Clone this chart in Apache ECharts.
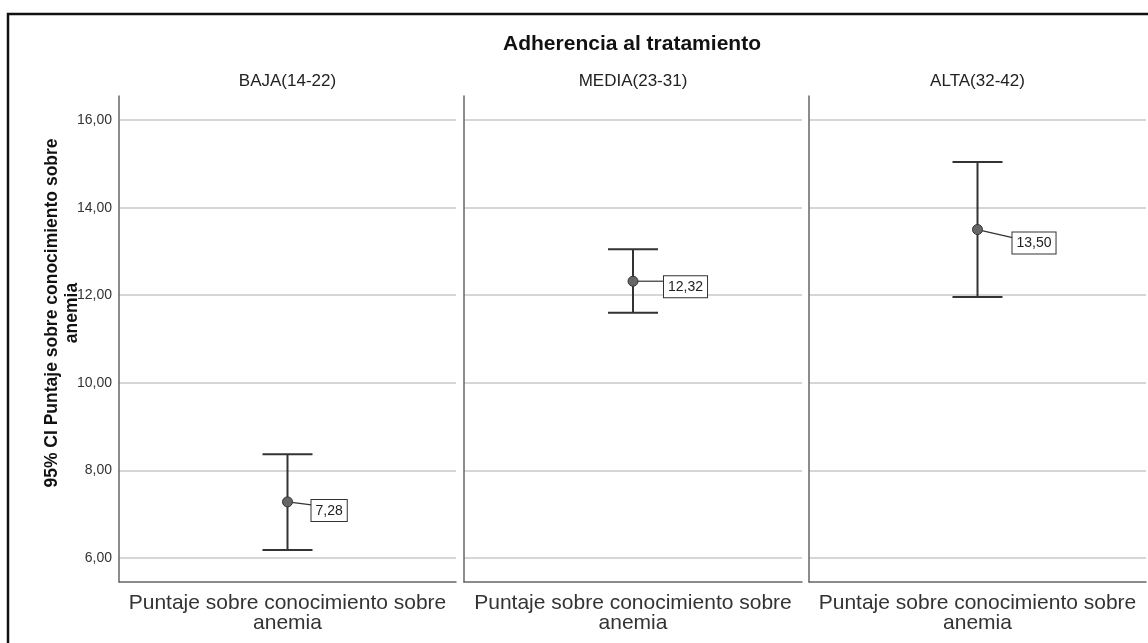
<!DOCTYPE html>
<html><head><meta charset="utf-8">
<script src="https://cdn.jsdelivr.net/npm/echarts@6/dist/echarts.min.js"></script>
<style>html,body{margin:0;padding:0;background:#fff}#c{width:1148px;height:643px}</style>
</head><body><div id="c"></div><script>
// ---- data ----
const chartTitle = 'Adherencia al tratamiento';
const panelLabels = ['BAJA(14-22)', 'MEDIA(23-31)', 'ALTA(32-42)'];
const xCategory = ['Puntaje sobre conocimiento sobre\nanemia'];
const means = [7.28, 12.32, 13.50];
const lowerCI = [6.18, 11.60, 11.96];
const upperCI = [8.37, 13.05, 15.04];
const yAxisTitle = '95% CI Puntaje sobre conocimiento sobre\nanemia';

// ---- layout / style ----
const FONT = '"Liberation Sans", Arial, sans-serif';
const gridBoxes = [{left: 119, width: 337}, {left: 464, width: 338}, {left: 809, width: 337}];
const gridTop = 96, gridHeight = 486;
const labelOffsets = [[24, -2], [31, -5], [35, 3]];
const fmt = v => v.toFixed(2).replace('.', ',');

const chart = echarts.init(document.getElementById('c'), null, {renderer: 'canvas'});

function makeRender(idx) {
  return function (params, api) {
    const m = api.coord([api.value(0), api.value(1)]);
    const lo = api.coord([api.value(0), api.value(2)]);
    const hi = api.coord([api.value(0), api.value(3)]);
    const cap = 25;
    const lineStyle = {stroke: '#333', lineWidth: 2};
    const off = labelOffsets[idx];
    const bx = m[0] + off[0], by = m[1] + off[1];
    return {
      type: 'group',
      children: [
        {type: 'line', shape: {x1: lo[0], y1: lo[1], x2: hi[0], y2: hi[1]}, style: lineStyle},
        {type: 'line', shape: {x1: hi[0] - cap, y1: hi[1], x2: hi[0] + cap, y2: hi[1]}, style: lineStyle},
        {type: 'line', shape: {x1: lo[0] - cap, y1: lo[1], x2: lo[0] + cap, y2: lo[1]}, style: lineStyle},
        {type: 'line', shape: {x1: m[0], y1: m[1], x2: bx, y2: by + 5}, style: {stroke: '#333', lineWidth: 1.2}},
        {type: 'circle', shape: {cx: m[0], cy: m[1], r: 5}, style: {fill: '#666', stroke: '#333', lineWidth: 1}},
        {type: 'text', x: bx, y: by, style: {
          text: fmt(api.value(1)), font: '14px ' + FONT, fill: '#222',
          backgroundColor: '#fff', borderColor: '#333', borderWidth: 1,
          padding: [4, 4, 3, 4], align: 'left', verticalAlign: 'top'
        }}
      ]
    };
  };
}

const grids = gridBoxes.map(g => ({left: g.left, width: g.width, top: gridTop, height: gridHeight, containLabel: false}));
const xAxes = gridBoxes.map((g, i) => ({
  type: 'category', gridIndex: i, data: xCategory,
  axisLine: {show: true, lineStyle: {color: '#666', width: 1.5}},
  axisTick: {show: false},
  axisLabel: {interval: 0, fontSize: 21, fontFamily: FONT, color: '#333', margin: 11, lineHeight: 20},
  splitLine: {show: false}
}));
const yAxes = gridBoxes.map((g, i) => ({
  type: 'value', gridIndex: i, min: 5.45, max: 16.55, splitNumber: 5,
  axisLine: {show: true, lineStyle: {color: '#666', width: 1.5}},
  axisTick: {show: false},
  axisLabel: {show: i === 0, fontSize: 14, fontFamily: FONT, color: '#333', margin: 7,
    showMinLabel: false, showMaxLabel: false, formatter: v => fmt(v)},
  splitLine: {show: true, showMinLine: false, showMaxLine: false, lineStyle: {color: '#c8c8c8', width: 1.5}}
}));
const series = gridBoxes.map((g, i) => ({
  type: 'custom', xAxisIndex: i, yAxisIndex: i,
  data: [[0, means[i], lowerCI[i], upperCI[i]]],
  renderItem: makeRender(i), clip: false, silent: true
}));

const graphics = [
  {type: 'rect', shape: {x: 8, y: 14, width: 1300, height: 800}, style: {fill: 'none', stroke: '#111', lineWidth: 2.5}, z: 100},
  {type: 'text', x: 632, y: 44, style: {text: chartTitle, font: 'bold 21px ' + FONT, fill: '#111', align: 'center', verticalAlign: 'middle'}},
  {type: 'text', x: 62, y: 313, rotation: Math.PI / 2, style: {text: yAxisTitle, font: 'bold 17.5px ' + FONT, fill: '#111', align: 'center', verticalAlign: 'middle', lineHeight: 20}}
].concat(gridBoxes.map((g, i) => ({
  type: 'text', x: g.left + g.width / 2, y: 81,
  style: {text: panelLabels[i], font: '17px ' + FONT, fill: '#222', align: 'center', verticalAlign: 'middle'}
})));

chart.setOption({
  animation: false,
  backgroundColor: '#fff',
  grid: grids, xAxis: xAxes, yAxis: yAxes, series: series,
  graphic: graphics
});
</script></body></html>
